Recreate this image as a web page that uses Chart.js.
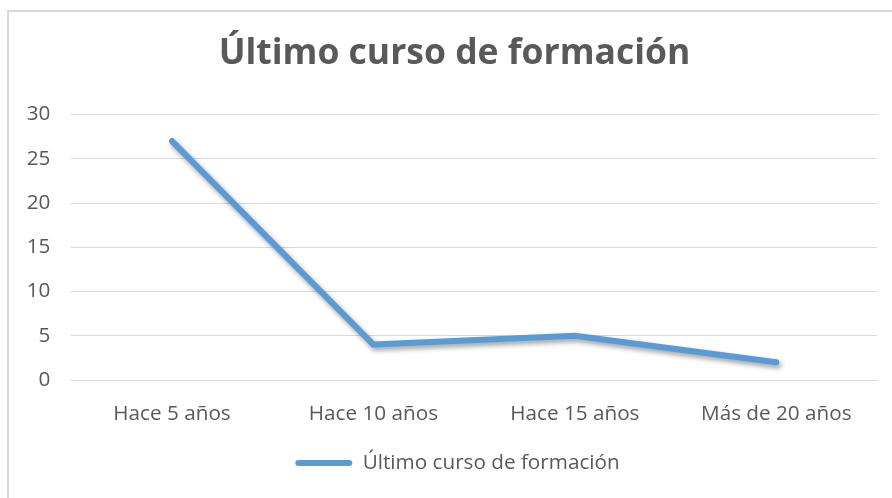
<!DOCTYPE html>
<html>
<head>
<meta charset="utf-8">
<script src="https://cdn.jsdelivr.net/npm/chart.js@4"></script>
<style>
  html, body { margin: 0; padding: 0; background: #fff; }
  #frame {
    position: absolute; left: 7px; top: 10px;
    width: 920px; height: 520px;
    border: 2px solid #d9d9d9;
  }
  #wrap { position: absolute; left: 0; top: 0; width: 892px; height: 498px; }
</style>
</head>
<body>
<div id="frame"></div>
<div id="wrap"><canvas id="chart" width="892" height="498"></canvas></div>
<script>
const CATEGORIES = ["Hace 5 años", "Hace 10 años", "Hace 15 años", "Más de 20 años"];
const SERIES_NAME = "Último curso de formación";
const SERIES_VALUES = [27, 4, 5, 2];
const Y_MIN = 0;
const Y_MAX = 30;
const Y_STEP = 5;

const LINE_COLOR = "#5b9bd5";
const TEXT_COLOR = "#595959";
const GRID_COLOR = "#d9d9d9";
const FONT = "'Open Sans', 'DejaVu Sans', sans-serif";

// soft drop shadow under the line, like the office chart
const lineShadow = {
  id: "lineShadow",
  beforeDatasetsDraw(chart){
    const ctx = chart.ctx;
    ctx.save();
    ctx.shadowColor = "rgba(0,0,0,0.38)";
    ctx.shadowBlur = 5;
    ctx.shadowOffsetX = 2;
    ctx.shadowOffsetY = 3;
  },
  afterDatasetsDraw(chart){
    chart.ctx.restore();
  }
};

// office centres title/legend a bit right of the canvas middle
const nudgeBlocks = {
  id: "nudgeBlocks",
  afterLayout(chart){
    const t = chart.titleBlock;
    if(t){ t.left += 5; t.right += 5; }
    const l = chart.legend;
    if(l){ l.left += 8; l.right += 8; }
  }
};

new Chart(document.getElementById("chart"), {
  type: "line",
  data: {
    labels: CATEGORIES,
    datasets: [{
      label: SERIES_NAME,
      data: SERIES_VALUES,
      borderColor: LINE_COLOR,
      backgroundColor: LINE_COLOR,
      borderWidth: 6,
      borderCapStyle: "round",
      borderJoinStyle: "round",
      pointRadius: 0,
      tension: 0,
      clip: false
    }]
  },
  options: {
    responsive: false,
    animation: false,
    layout: { padding: { left: 22, right: 15, top: 0, bottom: 14.65 } },
    plugins: {
      title: {
        display: true,
        text: SERIES_NAME,
        color: TEXT_COLOR,
        font: { family: FONT, size: 35.5, weight: "bold", lineHeight: 1.2 },
        padding: { top: 32.7, bottom: 39.2 }
      },
      legend: {
        display: true,
        position: "bottom",
        labels: {
          color: TEXT_COLOR,
          font: { family: FONT, size: 20.7 },
          boxWidth: 57,
          boxHeight: 6,
          padding: 10,
          useBorderRadius: true,
          generateLabels(chart){
            const items = Chart.defaults.plugins.legend.labels.generateLabels(chart);
            items.forEach(it => {
              it.lineWidth = 0;
              it.fillStyle = LINE_COLOR;
              it.borderRadius = 3;
            });
            return items;
          }
        }
      },
      tooltip: { enabled: false }
    },
    scales: {
      x: {
        offset: true,
        grid: { display: false, drawTicks: false },
        border: { display: true, color: GRID_COLOR, width: 1 },
        ticks: {
          color: TEXT_COLOR,
          font: { family: FONT, size: 20.7 },
          padding: 21.6,
          maxRotation: 0
        },
        afterFit(s){ s.height = 62.65; }
      },
      y: {
        min: Y_MIN,
        max: Y_MAX,
        grid: { color: GRID_COLOR, lineWidth: 1, drawTicks: false },
        border: { display: false },
        ticks: {
          stepSize: Y_STEP,
          color: TEXT_COLOR,
          font: { family: FONT, size: 20.7 },
          padding: 21
        },
        afterFit(s){ s.width = 49.3; }
      }
    }
  },
  plugins: [lineShadow, nudgeBlocks]
});
</script>
</body>
</html>
